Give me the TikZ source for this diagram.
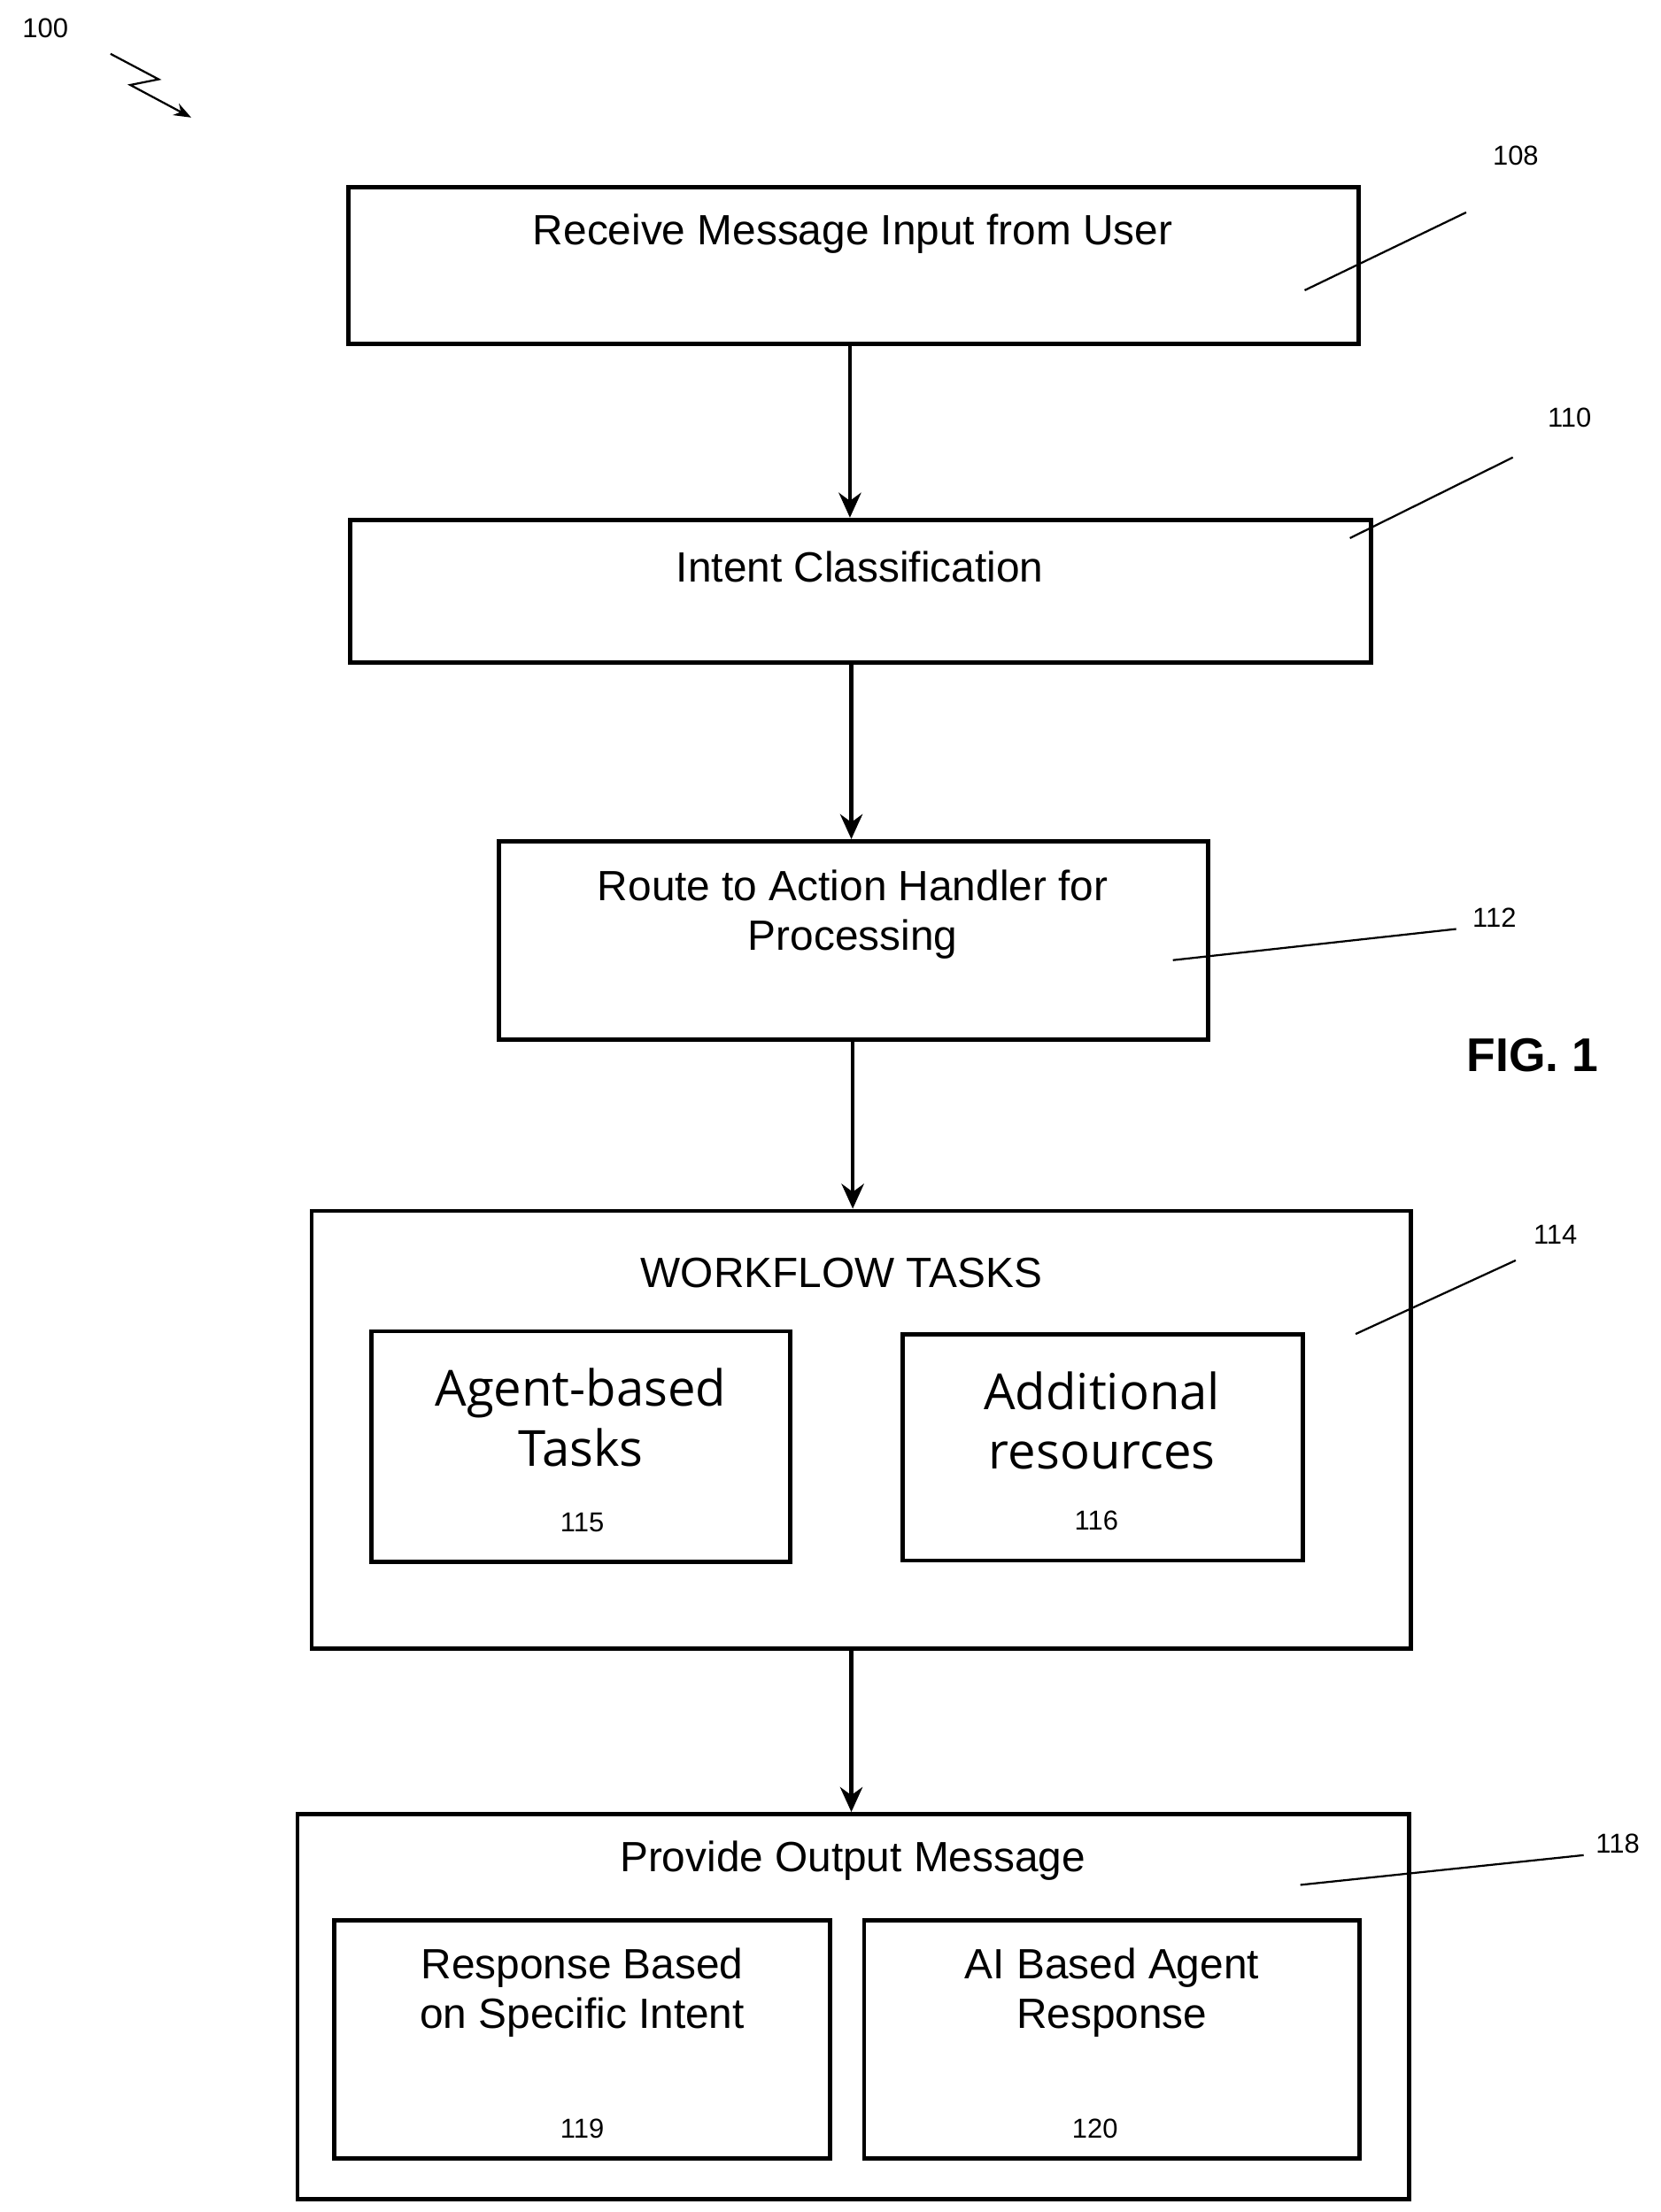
\documentclass[tikz,border=0pt]{standalone}
\usepackage{fontspec}
\setmainfont{Liberation Sans}
\newfontfamily\roundfont{Open Sans}
\usetikzlibrary{positioning,arrows.meta}

\tikzset{
  stepbox/.style={draw,line width=1.7pt,inner sep=0pt},
  txt/.style={font=\fontsize{17}{20}\selectfont,align=center},
  big/.style={font=\roundfont\fontsize{20}{24}\selectfont,align=center},
  num/.style={font=\fontsize{11}{13}\selectfont},
  flow/.style={-{Stealth[length=10pt,width=9pt]},line width=1.5pt},
  lead/.style={line width=0.8pt}
}

\begin{document}
\begin{tikzpicture}[x=0.02cm,y=-0.02cm]
  \useasboundingbox (0,0) rectangle (1172,1562);

  % reference mark
  \node [num] (n100) at (32,20) {100};
  \coordinate (z1) at (78,38);
  \coordinate (z2) at (112,56);
  \coordinate (z3) at (92,60);
  \coordinate (z4) at (135,83);
  \draw [lead,-{Stealth[length=7pt]}] (z1) -- (z2) -- (z3) -- (z4);

  % Step 108
  \node [stepbox,minimum width=14.26cm,minimum height=2.22cm] (s108) at (602.5,187.5) {};
  \node [txt] (t108) at (602,165) {Receive Message Input from User};
  \coordinate (l108a) at (921,205);
  \coordinate (l108b) at (1035,150);
  \draw [lead] (l108a) -- (l108b);
  \node [num] (n108) at (1070,110) {108};

  % Step 110
  \node [stepbox,minimum width=14.42cm,minimum height=2.02cm] (s110) at (607.5,417.5) {};
  \node [txt] (t110) at (607,400) {Intent Classification};
  \coordinate (l110a) at (953,380);
  \coordinate (l110b) at (1068,323);
  \draw [lead] (l110a) -- (l110b);
  \node [num] (n110) at (1108,295) {110};

  % Step 112
  \node [stepbox,minimum width=10.02cm,minimum height=2.8cm] (s112) at (602.5,664) {};
  \node [txt] (t112) at (602,646) {Route to Action Handler for\\Processing};
  \coordinate (l112a) at (828,678);
  \coordinate (l112b) at (1028,656);
  \draw [lead] (l112a) -- (l112b);
  \node [num] (n112) at (1055,648) {112};

  \node [font=\bfseries\fontsize{19}{22}\selectfont] (fig) at (1082,745) {FIG. 1};

  % Step 114
  \node [stepbox,minimum width=15.52cm,minimum height=6.18cm] (s114) at (608,1009.5) {};
  \node [txt] (t114) at (594,899) {WORKFLOW TASKS};
  \node [stepbox,minimum width=5.92cm,minimum height=3.26cm] (s115) at (410,1021.5) {};
  \node [big] (t115) at (410,1001) {Agent-based\\Tasks};
  \node [num] (n115) at (411,1075) {115};
  \node [stepbox,minimum width=5.66cm,minimum height=3.2cm] (s116) at (778.5,1022) {};
  \node [big] (t116) at (778,1003) {Additional\\resources};
  \node [num] (n116) at (774,1074) {116};
  \coordinate (l114a) at (957,942);
  \coordinate (l114b) at (1070,890);
  \draw [lead] (l114a) -- (l114b);
  \node [num] (n114) at (1098,872) {114};

  % Step 118
  \node [stepbox,minimum width=15.7cm,minimum height=5.44cm] (s118) at (602.5,1417) {};
  \node [txt] (t118) at (602,1314) {Provide Output Message};
  \node [stepbox,minimum width=7cm,minimum height=3.36cm] (s119) at (411,1440) {};
  \node [txt] (t119) at (411,1407) {Response Based\\on Specific Intent};
  \node [num] (n119) at (411,1503) {119};
  \node [stepbox,minimum width=7cm,minimum height=3.36cm] (s120) at (785,1440) {};
  \node [txt] (t120) at (785,1407) {AI Based Agent\\Response};
  \node [num] (n120) at (773,1503) {120};
  \coordinate (l118a) at (918,1331);
  \coordinate (l118b) at (1118,1310);
  \draw [lead] (l118a) -- (l118b);
  \node [num] (n118) at (1142,1302) {118};

  % flow
  \draw [flow] (s108.south -| 600,0) -- (s110.north -| 600,0);
  \draw [flow] (s110.south -| 601,0) -- (s112.north -| 601,0);
  \draw [flow] (s112.south -| 602,0) -- (s114.north -| 602,0);
  \draw [flow] (s114.south -| 601,0) -- (s118.north -| 601,0);

\end{tikzpicture}
\end{document}
